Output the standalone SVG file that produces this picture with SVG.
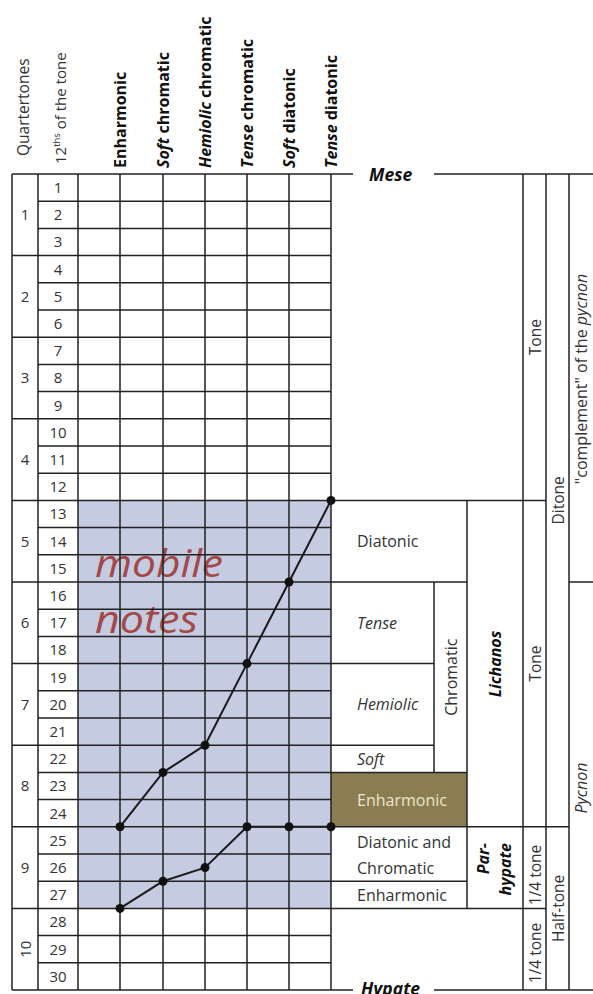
<svg xmlns="http://www.w3.org/2000/svg" width="593" height="994" viewBox="0 0 593 994">
<defs>
<style>
text{font-family:"Open Sans","Noto Sans","DejaVu Sans",sans-serif;fill:#333;}
.n{font-size:15px;text-anchor:middle;}
.h{font-size:16px;font-weight:bold;fill:#111;}
.lbl{font-size:16px;}
.iv{font-size:15.5px;}
.it{font-style:italic;}
.b{font-weight:bold;fill:#111;}
.g{fill:none;stroke:#222;stroke-width:1.5;}
.c{fill:none;stroke:#1a1a1a;stroke-width:2;stroke-linejoin:round;}
.d{fill:#111;}
.mob{font-size:39px;font-style:italic;fill:#a34848;}
</style>
</defs>
<rect width="593" height="994" fill="#fff"/>
<g id="fills">
<rect x="78" y="500.4" width="253" height="408" fill="#c5cbe0"/>
<rect x="331" y="772.4" width="136" height="54.4" fill="#8a7d52"/>
</g>
<g id="mobile-notes">
<text class="mob" x="95" y="577" textLength="128" lengthAdjust="spacingAndGlyphs">mobile</text>
<text class="mob" x="95" y="633" textLength="103" lengthAdjust="spacingAndGlyphs">notes</text>
</g>
<g id="grid" class="g">
<path d="M12 174V990M38 174V990M78 174V990M120 174V990M163 174V990M205 174V990M247 174V990M289 174V990M331 174V990"/>
<path d="M12 174H353M434 174H593M12 990H353M434 990H593
M38 201.2H331M38 228.4H331M12 255.6H331M38 282.8H331M38 310H331M12 337.2H331M38 364.4H331M38 391.6H331M12 418.8H331M38 446H331M38 473.2H331M12 500.4H546
M38 527.6H331M38 554.8H331M12 582H467M38 609.2H331M38 636.4H331M12 663.6H434M38 690.8H331M38 718H331M12 745.2H434M38 772.4H467M38 799.6H331M12 826.8H569
M38 854H331M38 881.2H467M12 908.4H546M38 935.6H331M38 962.8H331"/>
<path d="M523 174V990M546 174V990M569 174V990M467 500.4V908.4M434 582V772.4M569 582H593"/>
</g>
<g id="headers">
<text class="lbl" style="font-size:15.5px" transform="translate(29,156) rotate(-90)">Quartertones</text>
<text class="lbl" style="font-size:15px" transform="translate(66,164) rotate(-90)">12<tspan font-size="9.5" dy="-6">ths</tspan><tspan dy="6"> of the tone</tspan></text>
<text class="h" transform="translate(126,168) rotate(-90)">Enharmonic</text>
<text class="h" transform="translate(169,168) rotate(-90)"><tspan class="it">Soft</tspan> chromatic</text>
<text class="h" transform="translate(211,168) rotate(-90)"><tspan class="it">Hemiolic</tspan> chromatic</text>
<text class="h" transform="translate(253,168) rotate(-90)"><tspan class="it">Tense</tspan> chromatic</text>
<text class="h" transform="translate(295,168) rotate(-90)"><tspan class="it">Soft</tspan> diatonic</text>
<text class="h" transform="translate(337,168) rotate(-90)"><tspan class="it">Tense</tspan> diatonic</text>
</g>
<g id="quartertones">
<text class="n" x="25" y="220">1</text>
<text class="n" x="25" y="301.5">2</text>
<text class="n" x="25" y="383">3</text>
<text class="n" x="25" y="465">4</text>
<text class="n" x="25" y="546.5">5</text>
<text class="n" x="25" y="628">6</text>
<text class="n" x="25" y="709.5">7</text>
<text class="n" x="25" y="791">8</text>
<text class="n" x="25" y="873">9</text>
<text class="n" transform="translate(30.5,949.2) rotate(-90)">10</text>
</g>
<g id="twelfths">
<text class="n" x="58" y="193">1</text>
<text class="n" x="58" y="220">2</text>
<text class="n" x="58" y="247">3</text>
<text class="n" x="58" y="274.5">4</text>
<text class="n" x="58" y="301.5">5</text>
<text class="n" x="58" y="329">6</text>
<text class="n" x="58" y="356">7</text>
<text class="n" x="58" y="383">8</text>
<text class="n" x="58" y="410.5">9</text>
<text class="n" x="58" y="437.5">10</text>
<text class="n" x="58" y="465">11</text>
<text class="n" x="58" y="492">12</text>
<text class="n" x="58" y="519">13</text>
<text class="n" x="58" y="546.5">14</text>
<text class="n" x="58" y="573.5">15</text>
<text class="n" x="58" y="601">16</text>
<text class="n" x="58" y="628">17</text>
<text class="n" x="58" y="655">18</text>
<text class="n" x="58" y="682.5">19</text>
<text class="n" x="58" y="709.5">20</text>
<text class="n" x="58" y="737">21</text>
<text class="n" x="58" y="764">22</text>
<text class="n" x="58" y="791">23</text>
<text class="n" x="58" y="818.5">24</text>
<text class="n" x="58" y="845.5">25</text>
<text class="n" x="58" y="873">26</text>
<text class="n" x="58" y="900">27</text>
<text class="n" x="58" y="927">28</text>
<text class="n" x="58" y="954.5">29</text>
<text class="n" x="58" y="981.5">30</text>
</g>
<g id="mese"><text class="b it" x="369" y="180.5" font-size="17.5">Mese</text></g>
<g id="hypate"><text class="b it" x="361" y="994.5" font-size="17.5">Hypate</text></g>
<g id="lichanos-boxes">
<text class="lbl" x="357" y="546.5">Diatonic</text>
<text class="lbl it" x="357" y="628.5">Tense</text>
<text class="lbl it" x="357" y="710">Hemiolic</text>
<text class="lbl it" x="357" y="764.5">Soft</text>
<text class="lbl" x="357" y="805.5" style="fill:#ece6cc">Enharmonic</text>
<text class="lbl" transform="translate(457,677.2) rotate(-90)" text-anchor="middle">Chromatic</text>
<text class="lbl b it" transform="translate(501,664) rotate(-90)" text-anchor="middle">Lichanos</text>
</g>
<g id="parhypate-boxes">
<text class="lbl" x="357" y="848">Diatonic and</text>
<text class="lbl" x="357" y="874">Chromatic</text>
<text class="lbl" x="357" y="901">Enharmonic</text>
<text class="lbl b it" transform="translate(489,843) rotate(-90)" text-anchor="end">Par-</text>
<text class="lbl b it" transform="translate(511,843) rotate(-90)" text-anchor="end">hypate</text>
</g>
<g id="intervals">
<text class="iv" transform="translate(540.5,337.2) rotate(-90)" text-anchor="middle">Tone</text>
<text class="iv" transform="translate(540.5,663.6) rotate(-90)" text-anchor="middle">Tone</text>
<text class="iv" transform="translate(540.5,875) rotate(-90)" text-anchor="middle">1/4 tone</text>
<text class="iv" transform="translate(540.5,953) rotate(-90)" text-anchor="middle">1/4 tone</text>
<text class="iv" transform="translate(563.5,500.4) rotate(-90)" text-anchor="middle">Ditone</text>
<text class="iv" transform="translate(563.5,908.4) rotate(-90)" text-anchor="middle">Half-tone</text>
<text class="lbl" transform="translate(587,379) rotate(-90)" text-anchor="middle">"complement" of the <tspan class="it">pycnon</tspan></text>
<text class="lbl it" transform="translate(587,788) rotate(-90)" text-anchor="middle">Pycnon</text>
</g>
<g id="connectors">
<polyline class="c" points="120,826.8 163,772.4 205,745.2 247,663.6 289,582 331,500.4"/>
<polyline class="c" points="120,908.4 163,881.2 205,867.6 247,826.8 289,826.8 331,826.8"/>
<g class="d">
<circle cx="120" cy="826.8" r="4.5"/><circle cx="163" cy="772.4" r="4.5"/><circle cx="205" cy="745.2" r="4.5"/><circle cx="247" cy="663.6" r="4.5"/><circle cx="289" cy="582" r="4.5"/><circle cx="331" cy="500.4" r="4.5"/>
<circle cx="120" cy="908.4" r="4.5"/><circle cx="163" cy="881.2" r="4.5"/><circle cx="205" cy="867.6" r="4.5"/><circle cx="247" cy="826.8" r="4.5"/><circle cx="289" cy="826.8" r="4.5"/><circle cx="331" cy="826.8" r="4.5"/>
</g>
</g>
</svg>
